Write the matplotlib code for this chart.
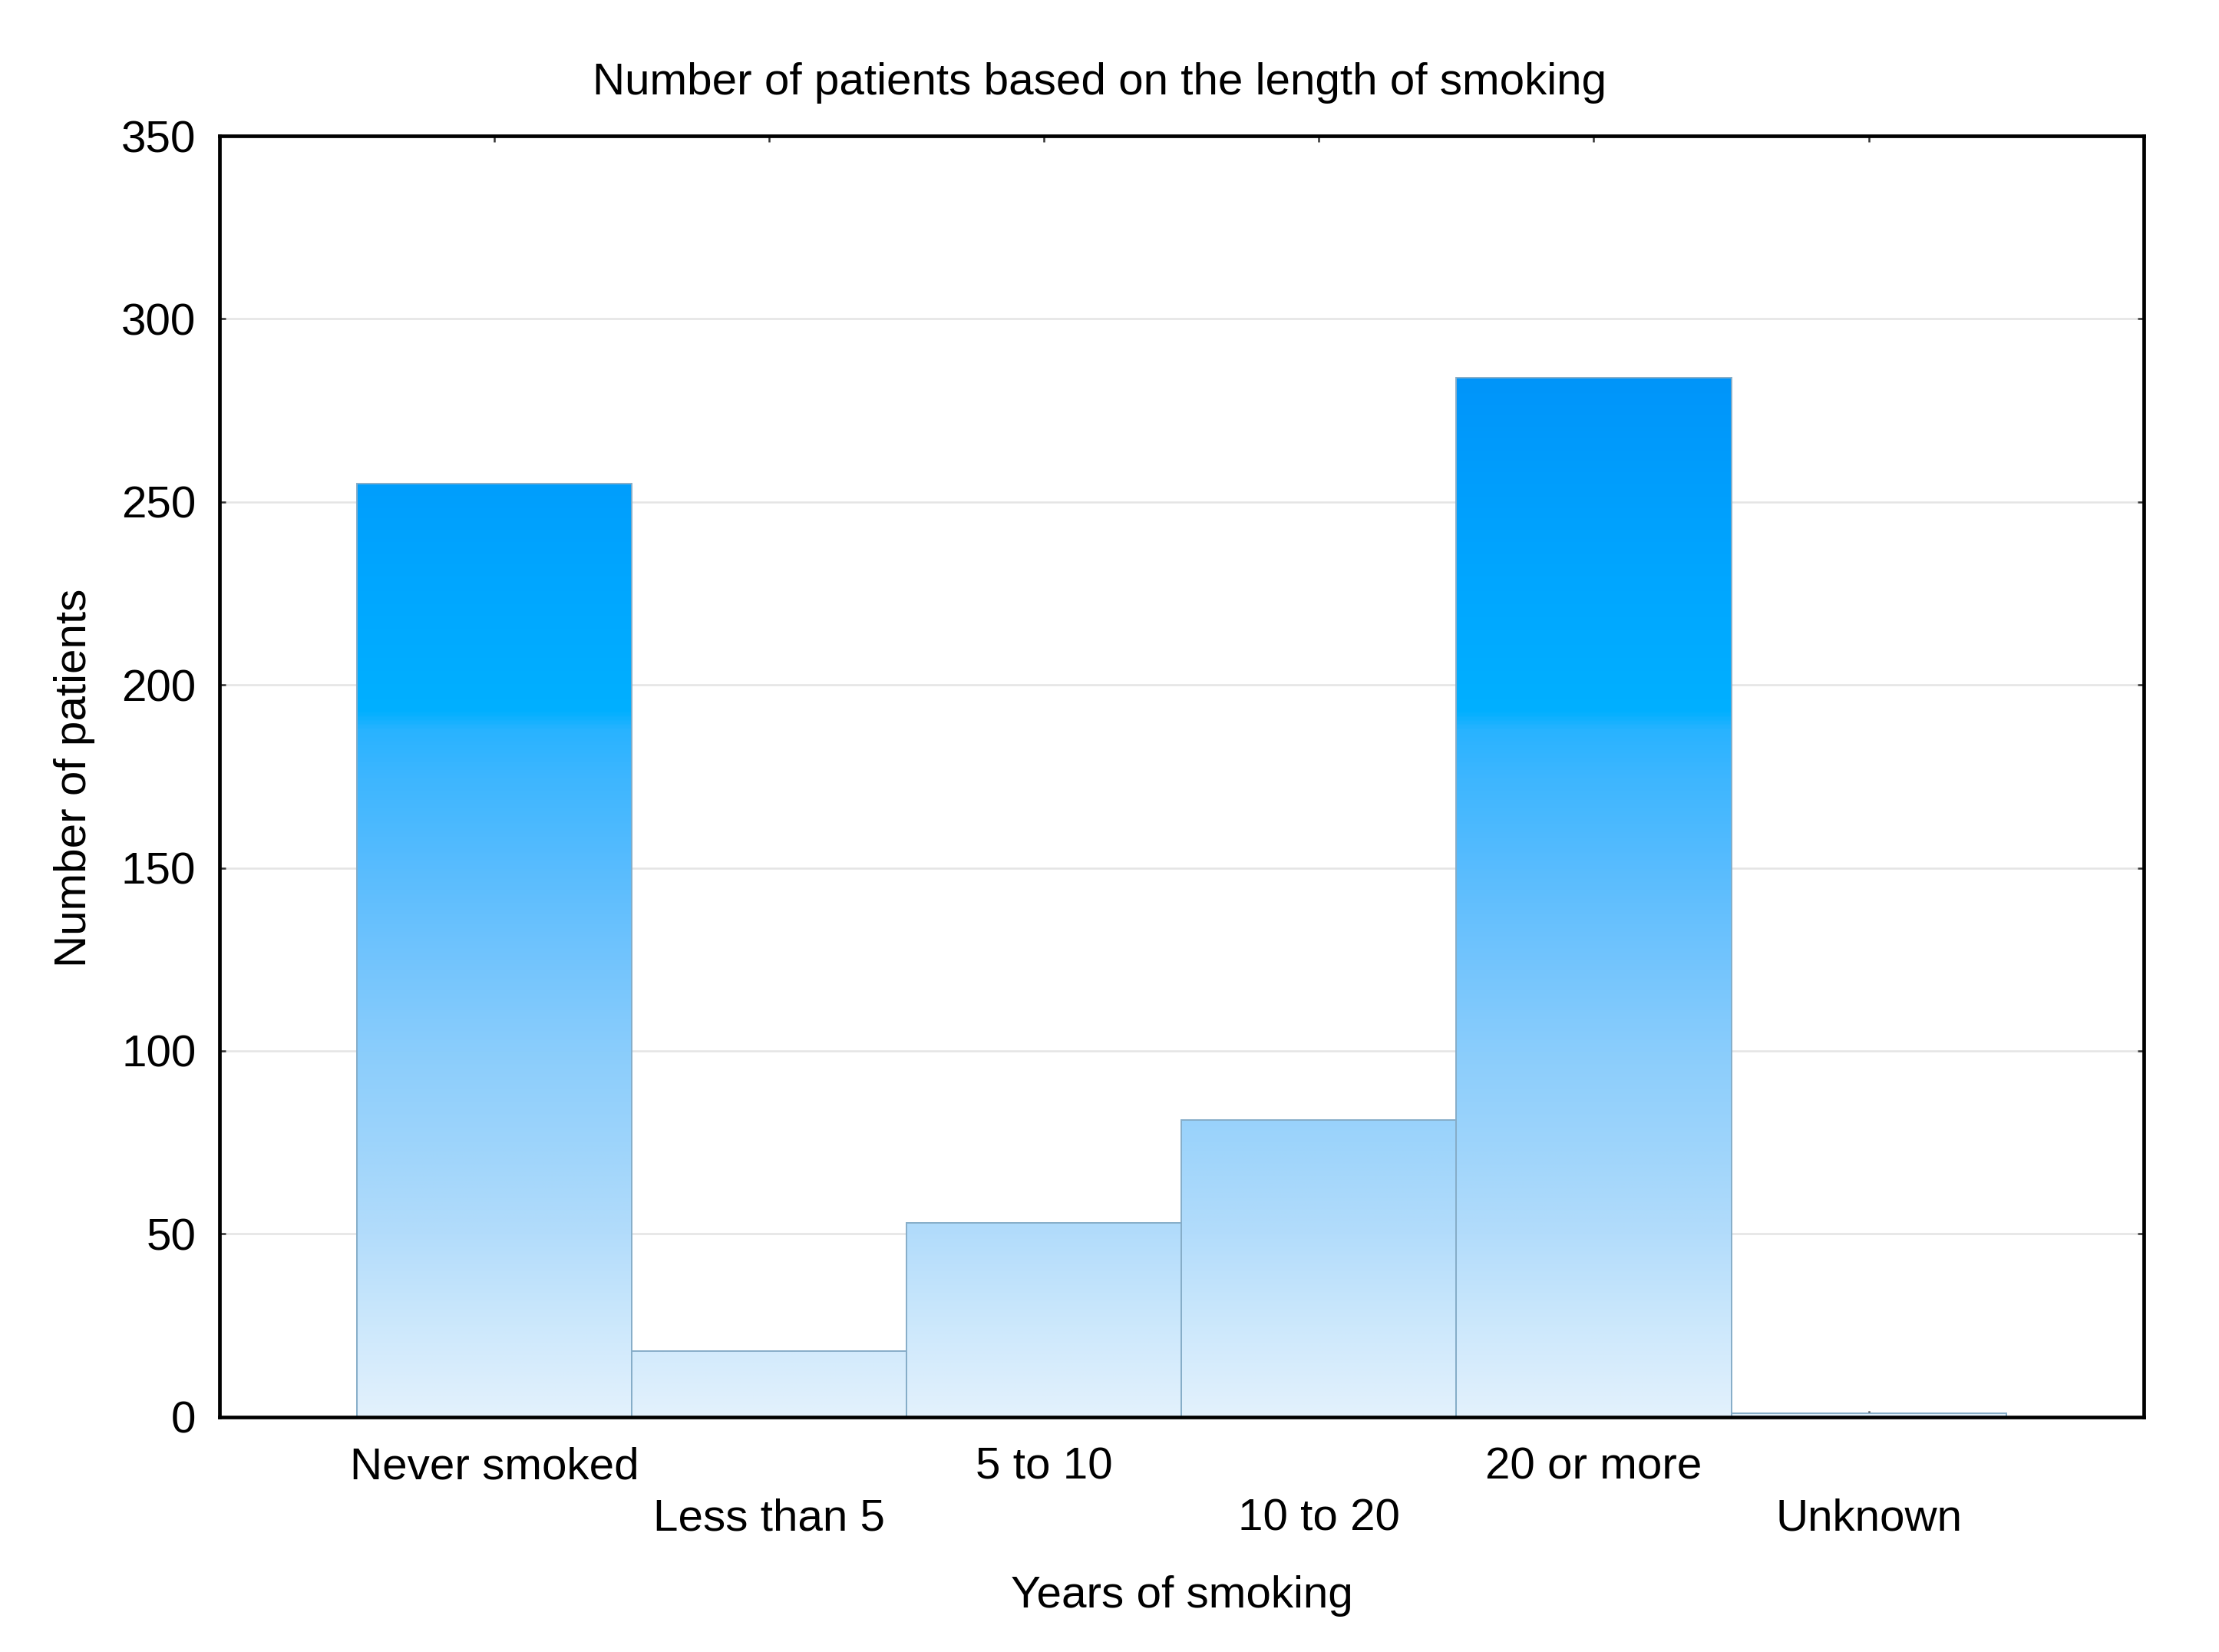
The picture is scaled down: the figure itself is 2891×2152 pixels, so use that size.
import numpy as np
import matplotlib
matplotlib.use('Agg')
import matplotlib.pyplot as plt
from matplotlib.colors import LinearSegmentedColormap

## data
categories = ['Never smoked', 'Less than 5', '5 to 10', '10 to 20', '20 or more', 'Unknown']
patients = [255, 18, 53, 81, 284, 1]
y_ticks = [0, 50, 100, 150, 200, 250, 300, 350]

plt.rcParams['font.family'] = ['Liberation Sans', 'DejaVu Sans']
plt.rcParams['font.size'] = 21

## blue gradient anchored to the y values (0 .. 290)
grad_top = 290.0
stops = [(0, '#e3f1fc'), (25, '#cce8fc'), (50, '#b2dcfb'), (75, '#9dd4fb'),
         (100, '#8acdfc'), (125, '#72c4fd'), (150, '#58bcfe'), (175, '#3db6ff'),
         (188, '#28b3ff'), (193, '#00b0ff'), (230, '#00a6ff'), (290, '#0093f9')]
cmap = LinearSegmentedColormap.from_list('smoke', [(v / grad_top, c) for v, c in stops])

fig = plt.figure(figsize=(14.455, 10.76), dpi=200)
ax = fig.add_axes([0.0989, 0.1424, 0.8671, 0.7753])

x = np.arange(len(categories))
bars = ax.bar(x, patients, width=1.0, facecolor='none', edgecolor='#86adc8',
              linewidth=0.7, zorder=3)

grad = np.linspace(0, 1, 512).reshape(-1, 1)
for rect in bars:
    x0 = rect.get_x()
    img = ax.imshow(grad, cmap=cmap, vmin=0, vmax=1, origin='lower', aspect='auto',
                    extent=[x0, x0 + rect.get_width(), 0, grad_top], zorder=2,
                    interpolation='bilinear')
    img.set_clip_path(rect)

ax.set_xlim(-1, 6)
ax.set_ylim(0, 350)
ax.set_yticks(y_ticks)
ax.set_xticks(x)
ax.set_xticklabels(categories)

ax.yaxis.grid(True, color='#e4e4e4', linewidth=0.9, zorder=0)
ax.set_axisbelow(True)

ax.tick_params(direction='in', length=3, width=0.9, color='#333333',
               top=True, right=True, labelsize=21)
ax.tick_params(axis='y', pad=11)
for i, t in enumerate(ax.xaxis.get_major_ticks()):
    t.set_pad(14 if i % 2 == 0 else 38)

for s in ax.spines.values():
    s.set_linewidth(1.7)
    s.set_color('black')
    s.set_zorder(5)

fig.text(0.4955, 0.943, 'Number of patients based on the length of smoking',
         ha='center', va='baseline', fontsize=21)
fig.text(0.5325, 0.027, 'Years of smoking', ha='center', va='baseline', fontsize=21)
fig.text(0.0334, 0.529, 'Number of patients', ha='center', va='center',
         rotation=90, fontsize=21)

fig.savefig('out.png', dpi=200)
